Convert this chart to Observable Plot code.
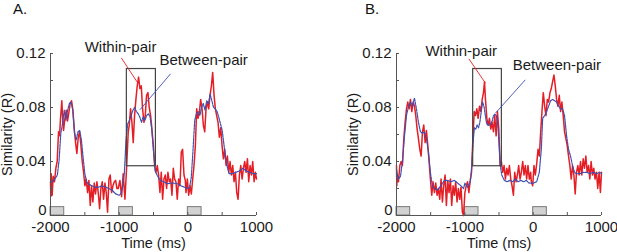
<!DOCTYPE html>
<html><head><meta charset="utf-8">
<script src="https://cdn.jsdelivr.net/npm/d3@7"></script>
<script src="https://cdn.jsdelivr.net/npm/@observablehq/plot@0.6"></script>
<style>
body{margin:0;background:#fff;}
#wrap{position:relative;width:617px;height:252px;display:flex;}
.lbl{position:absolute;top:0px;font:15px "Liberation Sans",Arial,sans-serif;color:#111;line-height:17px;}
</style></head><body>
<div id="wrap"></div>
<script>
// ---- data (time ms, similarity R) ----
const withinA = [[-2000,0.025],[-1995,0.014],[-1990,0.031],[-1976,0.015],[-1961,0.029],[-1942,0.025],[-1922,0.035],[-1903,0.040],[-1883,0.062],[-1869,0.059],[-1854,0.072],[-1835,0.085],[-1825,0.074],[-1810,0.063],[-1790,0.072],[-1771,0.078],[-1752,0.070],[-1732,0.0765],[-1713,0.083],[-1693,0.085],[-1674,0.078],[-1654,0.064],[-1635,0.054],[-1616,0.046],[-1596,0.058],[-1577,0.062],[-1557,0.052],[-1538,0.040],[-1518,0.032],[-1499,0.022],[-1480,0.027],[-1460,0.017],[-1441,0.026],[-1421,0.0075],[-1402,0.022],[-1383,0.010],[-1363,0.024],[-1344,0.016],[-1324,0.025],[-1305,0.017],[-1285,0.005],[-1266,0.020],[-1246,0.025],[-1227,0.012],[-1207,0.024],[-1188,0.017],[-1169,0.0025],[-1149,0.027],[-1130,0.030],[-1110,0.017],[-1091,0.022],[-1071,0.025],[-1052,0.026],[-1032,0.020],
[-1014,0.020],[-989,0.026],[-965,0.014],[-941,0.031],[-916,0.012],[-892,0.035],[-868,0.062],[-853,0.067],[-834,0.079],[-814,0.069],[-795,0.054],[-776,0.074],[-756,0.086],[-737,0.096],[-717,0.1025],[-698,0.094],[-678,0.096],[-659,0.079],[-639,0.069],[-620,0.074],[-601,0.089],[-581,0.091],[-562,0.080],[-542,0.074],[-523,0.064],[-503,0.052],[-484,0.037],[-465,0.032],[-445,0.037],[-426,0.030],[-406,0.017],[-387,0.032],[-367,0.012],[-348,0.027],[-328,0.030],[-309,0.020],[-290,0.032],[-270,0.025],[-251,0.027],[-231,0.015],[-212,0.035],[-192,0.027],[-173,0.025],[-154,0.012],[-134,0.027],[-115,0.022],[-95,0.047],[-76,0.049],[-56,0.030],[-37,0.026],
[-27,0.017],[-7,0.027],[12,0.015],[32,0.022],[51,0.016],[71,0.027],[90,0.037],[110,0.052],[129,0.079],[148,0.072],[168,0.0765],[187,0.086],[207,0.079],[226,0.067],[246,0.062],[265,0.079],[284,0.084],[304,0.079],[323,0.089],[343,0.096],[362,0.106],[382,0.089],[401,0.079],[420,0.074],[440,0.069],[459,0.058],[479,0.065],[498,0.052],[518,0.042],[537,0.049],[557,0.037],[576,0.044],[596,0.032],[615,0.040],[634,0.030],[654,0.037],[673,0.025],[693,0.032],[712,0.017],[732,0.012],[751,0.030],[771,0.037],[790,0.027],[810,0.035],[829,0.040],[848,0.032],[868,0.042],[887,0.025],[906,0.037],[926,0.030],[945,0.040],[965,0.025],[984,0.032],[1000,0.027]];

const betweenA = [[-2000,0.0247],[-1950,0.026],[-1900,0.030],[-1875,0.041],[-1850,0.061],[-1825,0.068],[-1800,0.078],[-1775,0.0705],[-1750,0.078],[-1725,0.083],[-1700,0.084],[-1675,0.078],[-1650,0.061],[-1625,0.056],[-1600,0.062],[-1575,0.063],[-1550,0.056],[-1525,0.043],[-1500,0.031],[-1475,0.025],[-1450,0.0235],[-1400,0.022],[-1350,0.021],[-1300,0.021],[-1250,0.022],[-1200,0.021],[-1150,0.020],[-1100,0.0185],[-1050,0.016],[-1000,0.015],[-975,0.016],[-950,0.021],[-925,0.031],[-900,0.056],[-875,0.068],[-850,0.0705],[-825,0.074],[-800,0.078],[-775,0.080],[-750,0.077],[-725,0.0755],[-700,0.073],[-675,0.069],[-650,0.073],[-625,0.0705],[-600,0.074],[-575,0.0755],[-550,0.073],[-525,0.064],[-500,0.048],[-475,0.033],[-450,0.030],[-400,0.026],[-350,0.025],[-300,0.0235],[-250,0.024],[-200,0.024],[-150,0.0235],[-100,0.022],[-50,0.021],[0,0.020],[25,0.021],[50,0.028],[75,0.048],[100,0.0705],[125,0.0755],[150,0.077],[175,0.074],[200,0.080],[225,0.083],[250,0.078],[275,0.085],[300,0.083],[325,0.090],[350,0.085],[375,0.080],[400,0.079],[425,0.077],[450,0.073],[475,0.068],[500,0.063],[525,0.053],[550,0.043],[575,0.036],[600,0.031],[650,0.031],[700,0.032],[750,0.033],[800,0.035],[850,0.033],[900,0.032],[950,0.031],[1000,0.031]];

const withinB = [[-2000,0.037],[-1995,0.022],[-1990,0.030],[-1971,0.025],[-1951,0.037],[-1932,0.040],[-1913,0.037],[-1893,0.057],[-1874,0.069],[-1854,0.079],[-1835,0.084],[-1815,0.079],[-1796,0.086],[-1776,0.077],[-1757,0.084],[-1737,0.081],[-1718,0.074],[-1698,0.064],[-1679,0.057],[-1659,0.049],[-1640,0.044],[-1620,0.062],[-1601,0.067],[-1581,0.054],[-1562,0.063],[-1542,0.052],[-1523,0.040],[-1504,0.027],[-1484,0.015],[-1465,0.025],[-1445,0.017],[-1426,0.024],[-1406,0.015],[-1387,0.020],[-1367,0.012],[-1348,0.027],[-1328,0.010],[-1309,0.022],[-1289,0.030],[-1270,0.0075],[-1250,0.026],[-1231,0.017],[-1211,0.027],[-1192,0.0075],[-1172,0.022],[-1153,0.015],[-1134,0.025],[-1114,0.010],[-1095,0.020],[-1075,0.012],[-1056,0.021],[-1036,0.0025],
[-1019,0.0],[-999,0.017],[-980,0.022],[-960,0.025],[-941,0.017],[-921,0.026],[-902,0.032],[-882,0.057],[-863,0.077],[-844,0.074],[-824,0.079],[-805,0.072],[-785,0.081],[-766,0.077],[-746,0.086],[-727,0.091],[-712,0.099],[-698,0.086],[-678,0.072],[-659,0.067],[-640,0.072],[-620,0.064],[-601,0.069],[-581,0.062],[-562,0.074],[-542,0.059],[-523,0.077],[-503,0.064],[-484,0.037],[-465,0.040],[-445,0.032],[-426,0.037],[-406,0.027],[-387,0.035],[-367,0.030],[-348,0.037],[-328,0.027],[-309,0.022],[-289,0.015],[-270,0.032],[-251,0.025],[-231,0.030],[-212,0.037],[-192,0.027],[-173,0.032],[-153,0.040],[-134,0.030],[-115,0.037],[-95,0.027],[-76,0.037],[-56,0.027],[-37,0.032],
[-27,0.025],[-7,0.022],[12,0.037],[32,0.030],[51,0.038],[71,0.049],[90,0.044],[110,0.062],[129,0.077],[148,0.091],[168,0.081],[187,0.074],[207,0.086],[226,0.084],[246,0.091],[265,0.094],[284,0.099],[304,0.104],[323,0.096],[343,0.086],[362,0.081],[382,0.089],[401,0.077],[420,0.084],[440,0.074],[459,0.062],[479,0.057],[498,0.052],[518,0.044],[537,0.037],[557,0.027],[576,0.037],[596,0.030],[615,0.016],[634,0.032],[654,0.037],[673,0.030],[693,0.040],[712,0.030],[732,0.042],[751,0.035],[771,0.044],[790,0.032],[810,0.037],[829,0.027],[848,0.040],[868,0.030],[887,0.035],[906,0.027],[926,0.032],[945,0.020],[965,0.032],[984,0.017],[1000,0.032]];

const betweenB = [[-2000,0.034],[-1971,0.027],[-1942,0.029],[-1913,0.040],[-1883,0.059],[-1854,0.074],[-1825,0.081],[-1796,0.084],[-1767,0.081],[-1738,0.087],[-1708,0.079],[-1679,0.069],[-1650,0.062],[-1621,0.061],[-1592,0.062],[-1562,0.057],[-1533,0.047],[-1504,0.032],[-1475,0.022],[-1446,0.020],[-1397,0.019],[-1349,0.022],[-1300,0.026],[-1251,0.026],[-1203,0.025],[-1154,0.026],[-1105,0.024],[-1057,0.022],[-1018,0.020],
[-1000,0.024],[-960,0.021],[-920,0.025],[-900,0.035],[-880,0.054],[-860,0.065],[-840,0.064],[-820,0.067],[-800,0.065],[-780,0.069],[-760,0.077],[-740,0.084],[-720,0.081],[-700,0.074],[-680,0.068],[-660,0.067],[-640,0.067],[-620,0.068],[-600,0.070],[-580,0.074],[-560,0.075],[-540,0.074],[-520,0.069],[-500,0.054],[-480,0.037],[-460,0.030],[-420,0.026],[-380,0.025],[-340,0.026],[-300,0.025],[-260,0.027],[-220,0.025],[-180,0.026],[-140,0.025],[-100,0.026],[-60,0.024],
[3,0.024],[51,0.025],[90,0.032],[119,0.049],[139,0.072],[168,0.074],[197,0.077],[226,0.081],[255,0.085],[284,0.086],[314,0.085],[343,0.084],[372,0.081],[401,0.079],[430,0.079],[459,0.074],[489,0.059],[518,0.049],[547,0.044],[576,0.037],[605,0.032],[634,0.031],[683,0.031],[732,0.032],[780,0.032],[829,0.031],[877,0.032],[926,0.031],[975,0.032],[1000,0.031]];

// stimulus bars (start, end ms) and their height
const stimuli = [[-2000,-1800],[-1000,-800],[0,200]];
const stimHeight = 0.0062;
// analysis window boxes [x1,x2,y1,y2]
const windowA = [-888, -465, 0.0365, 0.1085];
const windowB = [-878, -458, 0.0365, 0.1085];
// annotation leader lines [x1,y1,x2,y2] and label anchors
const leadersA = {within:[-969,0.1168,-736,0.0987], between:[-251,0.105,-698,0.0783]};
const leadersB = {within:[-940,0.116,-698,0.098], between:[-115,0.1005,-552,0.0758]};
const labelPosA = {within:[-980,0.1244], between:[230,0.1148]};
const labelPosB = {within:[-1052,0.1215], between:[347,0.111]};

const xTicksLabeled = [-2000,-1000,0,1000];
const xTicksAll = [-2000,-1500,-1000,-500,0,500,1000];
const yTicksLabeled = [0.04,0.08,0.12];
const yTickZero = [0];
const yTicksAll = [0,0.02,0.04,0.06,0.08,0.10,0.12];
const labels = {x:"Time (ms)", y:"Similarity (R)", within:"Within-pair", between:"Between-pair"};

const RED = "#e51e25", BLUE = "#3d4fb2", AX = "#555", INK = "#1a1a1a";

function panel(within, between, win, leaders, lpos, w, ml, mr) {
  return Plot.plot({
    width: w, height: 252, marginLeft: ml, marginRight: mr, marginTop: 53, marginBottom: 37,
    x: {domain: [-2000, 1000]},
    y: {domain: [0, 0.12]},
    style: {fontFamily: '"Liberation Sans", Arial, sans-serif', fontSize: "15px", color: INK, overflow: "visible", background: "transparent"},
    marks: [
      Plot.rect(stimuli, {x1: d => d[0], x2: d => d[1], y1: 0, y2: stimHeight, fill: "#d2d2d2", stroke: "#7a7a7a", strokeWidth: 1}),
      Plot.line(within, {x: d => d[0], y: d => d[1], stroke: RED, strokeWidth: 1.5}),
      Plot.line(between, {x: d => d[0], y: d => d[1], stroke: BLUE, strokeWidth: 1.2, strokeDasharray: "2.5,1"}),
      Plot.rect([win], {x1: d => d[0], x2: d => d[1], y1: d => d[2], y2: d => d[3], fill: "none", stroke: "#444", strokeWidth: 1.2}),
      Plot.link([leaders.within], {x1: d => d[0], y1: d => d[1], x2: d => d[2], y2: d => d[3], stroke: RED, strokeWidth: 0.9}),
      Plot.link([leaders.between], {x1: d => d[0], y1: d => d[1], x2: d => d[2], y2: d => d[3], stroke: BLUE, strokeWidth: 0.9}),
      Plot.text([labels.within], {x: lpos.within[0], y: lpos.within[1], text: d => d, fill: INK, fontSize: 15}),
      Plot.text([labels.between], {x: lpos.between[0], y: lpos.between[1], text: d => d, fill: INK, fontSize: 15}),
      Plot.ruleY([0], {stroke: AX}),
      Plot.ruleX([-2000], {stroke: AX}),
      Plot.axisX({ticks: xTicksAll, tickSize: -3, tickFormat: () => "", stroke: AX, label: null}),
      Plot.axisY({ticks: yTicksAll, tickSize: -3, tickFormat: () => "", stroke: AX, label: null}),
      Plot.axisX({ticks: xTicksLabeled, tickSize: 0, tickPadding: 6, tickFormat: d => String(d), label: null, fill: INK, fontSize: 15}),
      Plot.axisY({ticks: yTicksLabeled, tickSize: 0, tickPadding: 5, tickFormat: d => String(d), label: null, fill: INK, fontSize: 15}),
      Plot.axisY({ticks: yTickZero, tickSize: 0, tickPadding: 4, dy: -5, tickFormat: d => String(d), label: null, fill: INK, fontSize: 15}),
      Plot.text([labels.x], {x: -500, y: 0, dy: 27.5, text: d => d, fill: INK, fontSize: 14.5}),
      Plot.text([labels.y], {x: -2000, y: 0.06, dx: -43, rotate: -90, text: d => d, fill: INK, fontSize: 14.5})
    ]
  });
}

const wrap = document.getElementById("wrap");
wrap.appendChild(panel(withinA, betweenA, windowA, leadersA, labelPosA, 308, 50, 52));
wrap.appendChild(panel(withinB, betweenB, windowB, leadersB, labelPosB, 309, 88, 16));
const la = document.createElement("div"); la.className = "lbl"; la.style.left = "13px"; la.textContent = "A."; wrap.appendChild(la);
const lb = document.createElement("div"); lb.className = "lbl"; lb.style.left = "365px"; lb.textContent = "B."; wrap.appendChild(lb);
</script>
</body></html>
